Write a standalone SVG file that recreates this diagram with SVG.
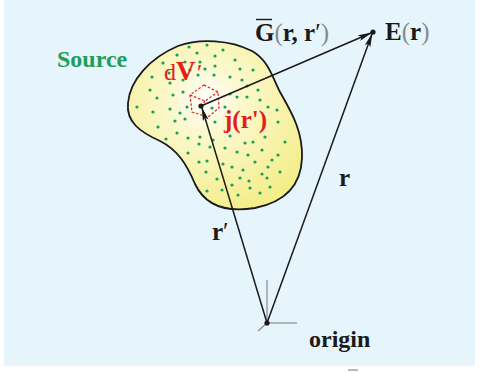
<svg xmlns="http://www.w3.org/2000/svg" width="479" height="373" viewBox="0 0 479 373">
<defs>
<radialGradient id="blobFill" cx="0.45" cy="0.35" r="0.7">
<stop offset="0" stop-color="#ffffff"/>
<stop offset="0.3" stop-color="#fbf8cc"/>
<stop offset="1" stop-color="#f4ed88"/>
</radialGradient>
<marker id="arr" viewBox="0 0 14 6" refX="13" refY="3" markerWidth="14" markerHeight="6" markerUnits="userSpaceOnUse" orient="auto">
<path d="M0,0 L14,3 L0,6 L3,3 Z" fill="#1a1a1a"/>
</marker>
</defs>
<style>
.lbl{font-family:"Liberation Serif","Times New Roman",serif;font-weight:bold;}
.blk{fill:#1a1a1a;}
.red{fill:#e0201c;}
.gry{fill:#8a8a8a;font-weight:normal;}
.conn{stroke:#1a1a1a;stroke-width:1.5;fill:none;}
.dot{fill:#16a05a;}
.axis{stroke:#8a8a8a;stroke-width:1.2;}
</style>
<rect x="0" y="0" width="479" height="373" fill="#ffffff"/>
<rect x="4" y="0" width="471" height="366" fill="#e6f4fc"/>
<rect x="348" y="369" width="10" height="2" fill="#b8b8b8"/>

<g id="source">
<path d="M128,103 C130,80 150,58 178,46 C200,38 230,40 252,51 C268,60 272,76 280,92 C290,110 303,130 302,158 C301,185 285,202 255,208 C225,213 205,205 195,184 C187,165 178,150 160,141 C140,132 126,122 128,103 Z" fill="url(#blobFill)" stroke="#1a1a1a" stroke-width="1.8"/>
<g class="dot">
<circle cx="189" cy="47" r="1.6"/><circle cx="207" cy="45" r="1.6"/><circle cx="177" cy="55" r="1.6"/><circle cx="197" cy="53" r="1.6"/><circle cx="215" cy="56" r="1.6"/><circle cx="163" cy="63" r="1.6"/><circle cx="185" cy="62" r="1.6"/><circle cx="200" cy="62" r="1.6"/><circle cx="152" cy="77" r="1.6"/><circle cx="169" cy="73" r="1.6"/><circle cx="190" cy="70" r="1.6"/><circle cx="214" cy="75" r="1.6"/><circle cx="198" cy="75" r="1.6"/><circle cx="183" cy="80" r="1.6"/><circle cx="170" cy="83" r="1.6"/><circle cx="150" cy="90" r="1.6"/><circle cx="183" cy="92" r="1.6"/><circle cx="157" cy="98" r="1.6"/><circle cx="173" cy="95" r="1.6"/><circle cx="137" cy="107" r="1.6"/><circle cx="153" cy="112" r="1.6"/><circle cx="170" cy="109" r="1.6"/><circle cx="187" cy="107" r="1.6"/><circle cx="180" cy="113" r="1.6"/><circle cx="158" cy="127" r="1.6"/><circle cx="175" cy="121" r="1.6"/><circle cx="185" cy="119" r="1.6"/><circle cx="212" cy="108" r="1.6"/>
<circle cx="223" cy="50" r="1.6"/><circle cx="235" cy="60" r="1.6"/><circle cx="205" cy="69" r="1.6"/><circle cx="215" cy="66" r="1.6"/><circle cx="230" cy="77" r="1.6"/><circle cx="242" cy="80" r="1.6"/><circle cx="253" cy="70" r="1.6"/><circle cx="240" cy="69" r="1.6"/><circle cx="247" cy="86" r="1.6"/><circle cx="258" cy="90" r="1.6"/><circle cx="260" cy="100" r="1.6"/><circle cx="247" cy="97" r="1.6"/><circle cx="237" cy="97" r="1.6"/><circle cx="268" cy="107" r="1.6"/><circle cx="277" cy="110" r="1.6"/><circle cx="278" cy="122" r="1.6"/><circle cx="225" cy="107" r="1.6"/><circle cx="230" cy="94" r="1.6"/>
<circle cx="177" cy="133" r="1.6"/><circle cx="166" cy="139" r="1.6"/><circle cx="188" cy="138" r="1.6"/><circle cx="200" cy="137" r="1.6"/><circle cx="199" cy="144" r="1.6"/><circle cx="210" cy="147" r="1.6"/><circle cx="213" cy="140" r="1.6"/><circle cx="188" cy="153" r="1.6"/><circle cx="199" cy="162" r="1.6"/><circle cx="207" cy="161" r="1.6"/><circle cx="206" cy="172" r="1.6"/><circle cx="217" cy="179" r="1.6"/><circle cx="207" cy="191" r="1.6"/>
<circle cx="285" cy="142" r="1.6"/><circle cx="265" cy="137" r="1.6"/><circle cx="253" cy="142" r="1.6"/><circle cx="245" cy="143" r="1.6"/><circle cx="230" cy="136" r="1.6"/><circle cx="225" cy="148" r="1.6"/><circle cx="237" cy="152" r="1.6"/><circle cx="248" cy="155" r="1.6"/><circle cx="262" cy="150" r="1.6"/><circle cx="278" cy="155" r="1.6"/><circle cx="255" cy="162" r="1.6"/><circle cx="272" cy="160" r="1.6"/><circle cx="268" cy="167" r="1.6"/><circle cx="262" cy="174" r="1.6"/><circle cx="243" cy="170" r="1.6"/><circle cx="232" cy="167" r="1.6"/><circle cx="223" cy="164" r="1.6"/><circle cx="240" cy="178" r="1.6"/><circle cx="249" cy="181" r="1.6"/><circle cx="267" cy="178" r="1.6"/><circle cx="280" cy="172" r="1.6"/><circle cx="222" cy="190" r="1.6"/><circle cx="232" cy="185" r="1.6"/><circle cx="238" cy="195" r="1.6"/><circle cx="250" cy="188" r="1.6"/><circle cx="260" cy="193" r="1.6"/><circle cx="270" cy="187" r="1.6"/><circle cx="215" cy="122" r="1.6"/>
</g>
<text class="lbl" x="57" y="67" font-size="24" fill="#1e9e5a">Source</text>
</g>

<g id="dV">
<path d="M204,85 L218,92 L219,108 L208,117 L192,112 L190,95 Z M190,95 L205,101 L218,92 M205,101 L202,106" fill="none" stroke="#e0201c" stroke-width="1.2" stroke-dasharray="2.5,1.8"/>
<circle cx="201" cy="106" r="2.6" fill="#1a1a1a"/>
<text class="lbl red" x="164" y="80" font-size="24"><tspan font-weight="normal">d</tspan><tspan font-size="27">V</tspan><tspan font-weight="normal" font-style="italic">′</tspan></text>
<text class="lbl red" x="224" y="128" font-size="25">j(r')</text>
</g>

<g id="E">
<circle cx="373" cy="32" r="2.6" fill="#1a1a1a"/>
<text class="lbl blk" x="385" y="40" font-size="25">E<tspan class="gry">(</tspan>r<tspan class="gry">)</tspan></text>
</g>

<g id="origin">
<line class="axis" x1="267" y1="280" x2="267" y2="323"/>
<line class="axis" x1="267" y1="323" x2="297" y2="323"/>
<line class="axis" x1="267" y1="323" x2="258" y2="331"/>
<circle cx="267" cy="323" r="2.6" fill="#1a1a1a"/>
<text class="lbl blk" x="309" y="347" font-size="24">origin</text>
</g>

<g id="connectors">
<line class="conn" x1="201" y1="106" x2="371" y2="33" marker-end="url(#arr)"/>
<line class="conn" x1="267" y1="323" x2="372" y2="34" marker-end="url(#arr)"/>
<line class="conn" x1="267" y1="323" x2="202" y2="108" marker-end="url(#arr)"/>
<text class="lbl blk" x="255" y="41" font-size="25"><tspan>G</tspan><tspan class="gry">(</tspan>r, r<tspan font-weight="normal">′</tspan><tspan class="gry">)</tspan></text>
<line x1="256" y1="19.5" x2="272" y2="19.5" stroke="#1a1a1a" stroke-width="1.4"/>
<text class="lbl blk" x="339" y="186" font-size="25">r</text>
<text class="lbl blk" x="212" y="240" font-size="25">r<tspan font-weight="normal">′</tspan></text>
</g>
</svg>
